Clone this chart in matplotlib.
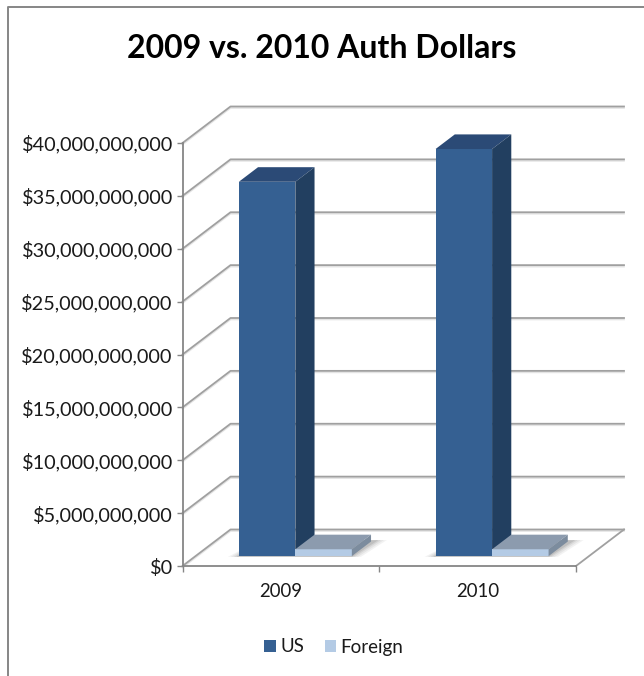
import numpy as np
import matplotlib
matplotlib.use("Agg")
import matplotlib.pyplot as plt
from matplotlib.lines import Line2D
from matplotlib.patches import Patch, Polygon
from matplotlib.transforms import Affine2D

years = ["2009", "2010"]
us_dollars = [35.4e9, 38.5e9]
foreign_dollars = [0.65e9, 0.65e9]
y_ticks = [0, 5e9, 10e9, 15e9, 20e9, 25e9, 30e9, 35e9, 40e9]

W, H = 644, 676
plt.rcParams["font.family"] = ["Lato", "DejaVu Sans"]

fig = plt.figure(figsize=(W / 100, H / 100), dpi=100)
# front plane of the fake 3d box, in pixels
left, right, top, bottom = 182.5, 576, 143, 566
ax = fig.add_axes([left / W, 1 - bottom / H, (right - left) / W, (bottom - top) / H])
ax.set_xlim(0, 2)
ax.set_ylim(0, 40e9)
ax.patch.set_alpha(0)

# how far the box recedes, in data units
px_x = (right - left) / 2
DX = 48.0 / px_x
DY = 36.5 / ((bottom - top) / 40e9)
GRID = "#a0a0a0"
AXIS = "#868686"


def pt(x, val, d):
    return (x + d * DX, val + d * DY)


def add_poly(pts, color, z, alpha=1.0):
    ax.add_patch(Polygon(pts, closed=True, facecolor=color, edgecolor="none", lw=0,
                         alpha=alpha, zorder=z, clip_on=False))


def box(x0, x1, v0, v1, d0, d1, front, top_c, side, z):
    add_poly([pt(x0, v0, d0), pt(x1, v0, d0), pt(x1, v1, d0), pt(x0, v1, d0)], front, z)
    add_poly([pt(x0, v1, d0), pt(x1, v1, d0), pt(x1, v1, d1), pt(x0, v1, d1)], top_c, z)
    add_poly([pt(x1, v0, d0), pt(x1, v0, d1), pt(x1, v1, d1), pt(x1, v1, d0)], side, z)


# walls and floor, each line has a faint shadow under it
for v in y_ticks:
    xs = [pt(0, v, 0)[0], pt(0, v, 1)[0], pt(2, v, 1)[0]]
    ys = [pt(0, v, 0)[1], pt(0, v, 1)[1], pt(2, v, 1)[1]]
    ax.plot(xs, ys, color="#e4e4e4", lw=1.2, zorder=1, clip_on=False,
            transform=ax.transData + Affine2D().translate(0, -1.5))
    ax.plot(xs, ys, color=GRID, lw=1.3, zorder=2, clip_on=False)
ax.plot([2, 2 + DX], [0, DY], color=GRID, lw=1.3, zorder=2, clip_on=False)

# bars
bar_w = 56.5 / px_x
d_front, d_back = 0.27, 0.67
for i, year in enumerate(years):
    x_mid = i + 0.5 + 1.5 / px_x
    # soft shadow on the floor
    for grow, a in zip([10, 7, 4, 1.5], [0.06, 0.07, 0.09, 0.12]):
        g = grow / px_x
        add_poly([pt(x_mid - bar_w - g, 0, d_front - 0.02),
                  pt(x_mid + bar_w + g, 0, d_front - 0.02),
                  pt(x_mid + bar_w + g + 0.02, 0, d_back + 0.04),
                  pt(x_mid - bar_w, 0, d_back + 0.04)], "#303030", 3, alpha=a)
    box(x_mid - bar_w, x_mid, 0, us_dollars[i], d_front, d_back,
        "#356092", "#2b4a76", "#223f60", 4)
    box(x_mid, x_mid + bar_w, 0, foreign_dollars[i], d_front, d_back,
        "#b4cbe5", "#8c9bae", "#7c8c9e", 5)

for s in ["top", "right"]:
    ax.spines[s].set_visible(False)
for s in ["left", "bottom"]:
    ax.spines[s].set_color(AXIS)
    ax.spines[s].set_linewidth(1.3)
    ax.spines[s].set_zorder(6)

ax.set_yticks(y_ticks)
ax.set_yticklabels(["${:,.0f}".format(v) for v in y_ticks])
ax.set_xticks([0, 1, 2])
ax.set_xticklabels([])
ax.tick_params(axis="y", length=4.5, width=1, color=AXIS, labelsize=14.3,
               labelcolor="#1a1a1a", pad=2.5)
ax.tick_params(axis="x", length=4, width=1, color=AXIS)
for i, year in enumerate(years):
    ax.text(i + 0.5, -2.4e9, year, ha="center", va="center", fontsize=13.4, color="#1a1a1a")

fig.text(322 / W, 1 - 48 / H, "2009 vs. 2010 Auth Dollars", ha="center", va="center",
         fontsize=23, fontweight="bold", color="black")

ax.legend(handles=[Patch(facecolor="#356092", label="US"),
                   Patch(facecolor="#b4cbe5", label="Foreign")],
          loc="center", bbox_to_anchor=(334 / W, 1 - 647 / H),
          bbox_transform=fig.transFigure, ncol=2, frameon=False, fontsize=13.5,
          handlelength=0.59, handleheight=0.59, handletextpad=0.27, columnspacing=1.07,
          labelcolor="#1a1a1a")

# chart area border, only left and top are inside the crop
fig.add_artist(Line2D([8 / W, 8 / W, 1], [0, 1 - 7 / H, 1 - 7 / H], color="#868686", lw=1.4))

fig.savefig("out.png", dpi=100)
